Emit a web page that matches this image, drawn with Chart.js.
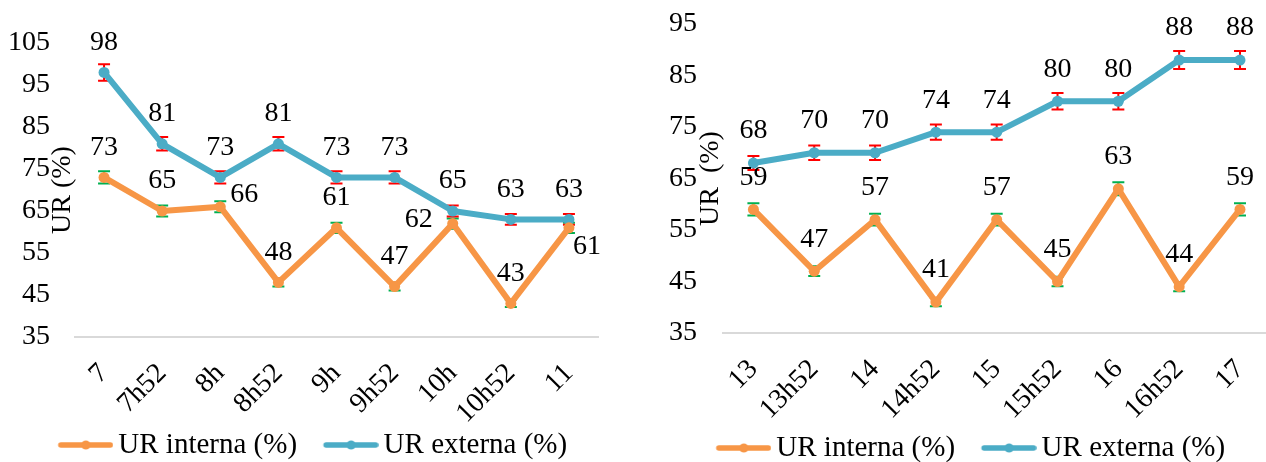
<!DOCTYPE html>
<html>
<head>
<meta charset="utf-8">
<script src="https://cdn.jsdelivr.net/npm/chart.js@4/dist/chart.umd.min.js"></script>
<style>
    html, body { margin: 0; padding: 0; background: #fff; }
    body { width: 1266px; height: 462px; overflow: hidden; position: relative; }
    .caja { position: absolute; top: 0; height: 480px; }
    #cajaManana { left: 0; width: 624px; }
    #cajaTarde { left: 636px; width: 668px; }
</style>
</head>
<body>
<div class="caja" id="cajaManana"><canvas id="chartManana"></canvas></div>
<div class="caja" id="cajaTarde"><canvas id="chartTarde"></canvas></div>
<script>
// ============================================================
//  Datos (UR = humedad relativa, %)
// ============================================================
const horasManana = ['7', '7h52', '8h', '8h52', '9h', '9h52', '10h', '10h52', '11'];
const urInternaManana = [73, 65, 66, 48, 61, 47, 62, 43, 61];
const urExternaManana = [98, 81, 73, 81, 73, 73, 65, 63, 63];
const ticksManana = [35, 45, 55, 65, 75, 85, 95, 105];

const horasTarde = ['13', '13h52', '14', '14h52', '15', '15h52', '16', '16h52', '17'];
const urInternaTarde = [59, 47, 57, 41, 57, 45, 63, 44, 59];
const urExternaTarde = [68, 70, 70, 74, 74, 80, 80, 88, 88];
const ticksTarde = [35, 45, 55, 65, 75, 85, 95];

const ERROR_PCT = 0.02;   // barras de error: 2 % del valor

const NARANJA = '#F79646';
const AZUL = '#4BACC6';
const FUENTE = "'Liberation Serif', 'Times New Roman', serif";

// ============================================================
//  Marcador de leyenda: línea gruesa con punto
//  (hueco transparente a la izquierda para separar los items)
// ============================================================
function legendMarker(color) {
    const c = document.createElement('canvas');
    c.width = 87;
    c.height = 12;
    const g = c.getContext('2d');
    g.strokeStyle = color;
    g.lineWidth = 5.5;
    g.lineCap = 'round';
    g.beginPath();
    g.moveTo(34.5, 6);
    g.lineTo(84, 6);
    g.stroke();
    g.fillStyle = color;
    g.beginPath();
    g.arc(59.5, 6, 4.5, 0, Math.PI * 2);
    g.fill();
    return c;
}

// ============================================================
//  Plugin: barras de error (debajo) + etiquetas de valor (encima)
// ============================================================
const urExtras = {
    id: 'urExtras',
    beforeDatasetsDraw(chart) {
        const ctx = chart.ctx;
        const y = chart.scales.y;
        chart.data.datasets.forEach((ds, di) => {
            const meta = chart.getDatasetMeta(di);
            ctx.save();
            ctx.strokeStyle = ds.errorColor;
            ctx.lineWidth = 2;
            ds.data.forEach((v, i) => {
                const px = meta.data[i].x;
                const top = y.getPixelForValue(v * (1 + ERROR_PCT));
                const bot = y.getPixelForValue(v * (1 - ERROR_PCT));
                ctx.beginPath();
                ctx.moveTo(px, top); ctx.lineTo(px, bot);
                ctx.moveTo(px - 6, top); ctx.lineTo(px + 6, top);
                ctx.moveTo(px - 6, bot); ctx.lineTo(px + 6, bot);
                ctx.stroke();
            });
            ctx.restore();
        });
    },
    afterDatasetsDraw(chart, args, opts) {
        const ctx = chart.ctx;
        ctx.save();
        ctx.font = `28px ${FUENTE}`;
        ctx.fillStyle = '#000';
        ctx.textBaseline = 'middle';
        chart.data.datasets.forEach((ds, di) => {
            const meta = chart.getDatasetMeta(di);
            ds.data.forEach((v, i) => {
                const p = meta.data[i];
                const pos = (ds.labelPos && ds.labelPos[i]) || 'above';
                if (pos === 'right') {
                    ctx.textAlign = 'left';
                    ctx.fillText(v, p.x + 10, p.y - 12);
                } else if (pos === 'left') {
                    ctx.textAlign = 'right';
                    ctx.fillText(v, p.x - 20, p.y - 4);
                } else if (pos === 'belowRight') {
                    ctx.textAlign = 'left';
                    ctx.fillText(v, p.x + 4, p.y + 19);
                } else {
                    ctx.textAlign = 'center';
                    ctx.fillText(v, p.x, p.y - opts.offset);
                }
            });
        });
        ctx.restore();
    }
};

// ============================================================
//  Construye una gráfica de UR interna / externa
// ============================================================
function buildUrChart(canvasId, horas, interna, externa, ticks, lay) {
    const markers = [legendMarker(NARANJA), legendMarker(AZUL)];
    const serie = (label, data, color, errColor, labelPos) => ({
        label,
        data,
        borderColor: color,
        backgroundColor: color,
        borderWidth: 6,
        borderJoinStyle: 'round',
        borderCapStyle: 'round',
        pointRadius: 5.5,
        pointHoverRadius: 5.5,
        pointBorderWidth: 0,
        tension: 0,
        clip: false,
        errorColor: errColor,
        labelPos
    });

    new Chart(document.getElementById(canvasId), {
        type: 'line',
        data: {
            labels: horas,
            datasets: [
                serie('UR interna (%)', interna, NARANJA, '#00B050', lay.posInterna),
                serie('UR externa (%)', externa, AZUL, '#FF0000', null)
            ]
        },
        options: {
            responsive: true,
            maintainAspectRatio: false,
            animation: false,
            layout: { padding: lay.padding },
            scales: {
                x: {
                    offset: true,
                    grid: { display: false },
                    border: { color: '#D9D9D9', width: 2 },
                    ticks: {
                        color: '#000',
                        font: { size: 28, family: FUENTE },
                        minRotation: 45,
                        maxRotation: 45,
                        autoSkip: false,
                        padding: 12
                    },
                    afterFit: s => { s.height = lay.xHeight; }
                },
                y: {
                    min: ticks[0],
                    max: ticks[ticks.length - 1],
                    grid: { display: false, drawTicks: true, tickLength: lay.yTickGap },
                    border: { display: false },
                    ticks: {
                        stepSize: ticks[1] - ticks[0],
                        color: '#000',
                        font: { size: 28, family: FUENTE },
                        padding: 0
                    },
                    title: {
                        display: true,
                        text: lay.titulo,
                        color: '#000',
                        font: { size: 28, family: FUENTE },
                        padding: { top: lay.titlePad, bottom: 0 }
                    },
                    afterFit: s => { s.width = lay.yWidth; }
                }
            },
            plugins: {
                legend: {
                    position: 'bottom',
                    labels: {
                        color: '#000',
                        font: { size: 29, family: FUENTE },
                        usePointStyle: true,
                        pointStyleWidth: 68,
                        padding: 4,
                        generateLabels: chart =>
                            Chart.defaults.plugins.legend.labels.generateLabels(chart)
                                .map((it, i) => ({ ...it, pointStyle: markers[i] }))
                    }
                },
                tooltip: { enabled: false },
                urExtras: { offset: lay.offset }
            }
        },
        plugins: [urExtras]
    });
}

// ============================================================
//  Gráfica 1 – mañana
// ============================================================
buildUrChart('chartManana', horasManana, urInternaManana, urExternaManana, ticksManana, {
    padding: { top: 43, right: 26, bottom: 10.5, left: 5 },
    xHeight: 89.5,
    yWidth: 70,
    yTickGap: 25,
    titlePad: 41,
    titulo: 'UR (%)',
    offset: 30,
    posInterna: ['above', 'above', 'right', 'above', 'above', 'above', 'left', 'above', 'belowRight']
});

// ============================================================
//  Gráfica 2 – tarde
// ============================================================
buildUrChart('chartTarde', horasTarde, urInternaTarde, urExternaTarde, ticksTarde, {
    padding: { top: 24, right: 33.6, bottom: 7.5, left: 12.6 },
    xHeight: 96.5,
    yWidth: 74.4,
    yTickGap: 26,
    titlePad: 45.6,
    titulo: 'UR  (%)',
    offset: 32,
    posInterna: null
});
</script>
</body>
</html>
